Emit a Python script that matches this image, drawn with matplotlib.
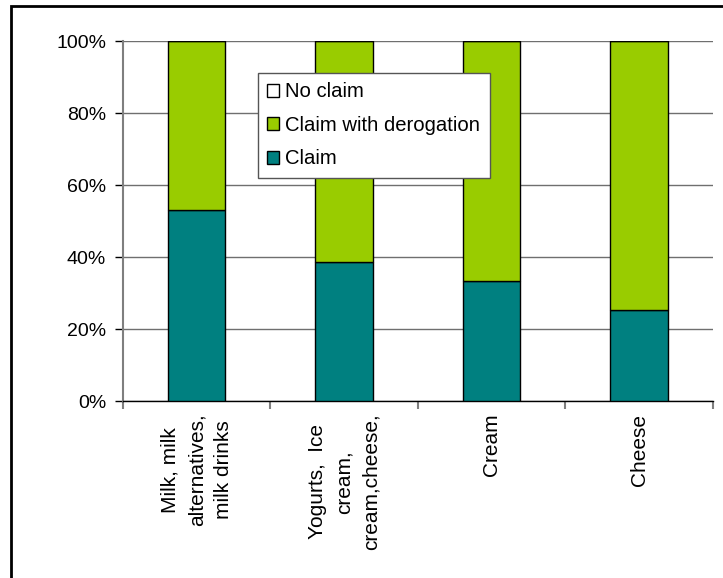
import matplotlib
matplotlib.use("Agg")
import matplotlib.pyplot as plt
from matplotlib.patches import Rectangle
import numpy as np

categories = ["Milk, milk\nalternatives,\nmilk drinks",
              "Yogurts,  Ice\ncream,\ncream,cheese,",
              "Cream",
              "Cheese"]
claim = [53.1, 38.7, 33.4, 25.2]
claim_derogation = [46.9, 61.3, 66.6, 74.8]
no_claim = [0, 0, 0, 0]
yticks = [0, 20, 40, 60, 80, 100]
ytick_labels = ["0%", "20%", "40%", "60%", "80%", "100%"]

plt.rcParams['font.family'] = ['Liberation Sans', 'DejaVu Sans']

fig = plt.figure(figsize=(7.23, 5.78), dpi=100)
ax = fig.add_axes([0.170, 0.306, 0.816, 0.623])

x = np.arange(len(categories))
w = 0.39
c_claim = "#008080"
c_der = "#99CC00"
b1 = ax.bar(x, claim, w, color=c_claim, edgecolor="black", linewidth=1, zorder=3, label="Claim")
b2 = ax.bar(x, claim_derogation, w, bottom=claim, color=c_der, edgecolor="black", linewidth=1, zorder=3,
            label="Claim with derogation")
bottom3 = [a + b for a, b in zip(claim, claim_derogation)]
b3 = ax.bar(x, no_claim, w, bottom=bottom3, color="white", edgecolor="black", linewidth=1, zorder=3,
            label="No claim")

ax.set_xlim(-0.5, len(categories) - 0.5)
ax.set_ylim(0, 100)
ax.set_yticks(yticks)
ax.set_yticklabels(ytick_labels, fontsize=14)
ax.yaxis.grid(True, color="#6f6f6f", linewidth=1, zorder=0)
ax.set_axisbelow(True)

ax.set_xticks(x)
ax.set_xticklabels(categories, rotation=90, fontsize=15, ha="center", va="top",
                   multialignment="center", linespacing=1.5)
ax.tick_params(axis="x", which="major", length=0, pad=9)
ax.set_xticks(np.arange(-0.5, len(categories), 1.0), minor=True)
ax.tick_params(axis="x", which="minor", length=6, color="#7f7f7f", width=1.5, direction="out")
ax.tick_params(axis="y", length=6, color="black", width=1, direction="out", pad=6)

for s in ["top", "right"]:
    ax.spines[s].set_visible(False)
ax.spines["left"].set_color("#7f7f7f")
ax.spines["left"].set_linewidth(1.5)
ax.spines["bottom"].set_color("black")
ax.spines["bottom"].set_linewidth(1)

leg = ax.legend(handles=[b3, b2, b1], labels=["No claim", "Claim with derogation", "Claim"],
                loc="upper left", bbox_to_anchor=(0.229, 0.911), fontsize=14.6, frameon=True,
                fancybox=False, edgecolor="#555555", framealpha=1, borderpad=0.45,
                handlelength=0.6, handleheight=0.6, handletextpad=0.3, labelspacing=0.72,
                borderaxespad=0)
leg.get_frame().set_linewidth(1)
leg.set_zorder(5)

# figure border (top and left visible)
fig.add_artist(Rectangle((11 / 723, -0.1), 1.2, 1.1 - 6 / 578, transform=fig.transFigure,
                         fill=False, edgecolor="black", linewidth=2, clip_on=False))

fig.savefig("out.png", dpi=100)
